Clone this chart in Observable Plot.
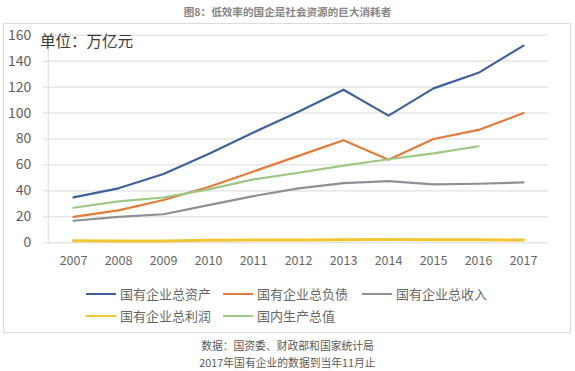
<!DOCTYPE html>
<html><head><meta charset="utf-8">
<script src="https://cdn.jsdelivr.net/npm/d3@7"></script>
<script src="https://cdn.jsdelivr.net/npm/@observablehq/plot@0.6"></script>
<style>
body{margin:0;background:#fff;font-family:"Noto Sans CJK SC","Noto Sans",sans-serif;}
#wrap{position:relative;width:575px;height:371px;overflow:hidden;background:#fff;}
#title{position:absolute;top:3px;left:0;width:575px;text-align:center;font-size:10.6px;font-weight:bold;color:#858585;line-height:18px;}
#box{position:absolute;left:3px;top:23px;width:568px;height:310px;border:1px solid #dcdcdc;box-sizing:border-box;}
#chart{position:absolute;left:0;top:0;}
#unit{position:absolute;left:40px;top:29px;font-size:15.5px;color:#3a3a3a;line-height:22px;}
.leg{position:absolute;display:flex;align-items:center;font-size:13px;color:#666;line-height:18px;}
.sw{display:inline-block;width:30px;height:2px;margin-right:4px;}
.foot{position:absolute;left:0;width:575px;text-align:center;font-size:10.8px;color:#5a5a5a;line-height:16px;}
</style></head>
<body><div id="wrap">
<div id="title">图8：低效率的国企是社会资源的巨大消耗者</div>
<div id="box"></div>
<div id="chart"></div>
<div id="unit">单位：万亿元</div>
<div id="legend"></div>
<div class="foot" style="top:337px">数据：国资委、财政部和国家统计局</div>
<div class="foot" style="top:354px">2017年国有企业的数据到当年11月止</div>
</div>
<script>
const years = [2007, 2008, 2009, 2010, 2011, 2012, 2013, 2014, 2015, 2016, 2017];
const seriesNames = ["国有企业总资产", "国有企业总负债", "国有企业总收入", "国有企业总利润", "国内生产总值"];
const seriesColors = ["#41609e", "#e37b3a", "#8f9096", "#f2c630", "#9ec783"];
const assets = [35, 42, 53, 68.5, 85, 101, 118, 98, 119, 131, 152];
const liabilities = [20, 25, 33, 43, 55, 67, 79, 64, 80, 87, 100];
const revenue = [17, 20, 22, 29, 36, 42, 46, 47.5, 45, 45.5, 46.5];
const profit = [1.6, 1.4, 1.4, 1.9, 2.2, 2.1, 2.4, 2.5, 2.3, 2.3, 2.1];
const gdp = [27, 31.9, 34.9, 41.2, 48.9, 54, 59.5, 64.4, 68.9, 74.4];
const yTicks = [0, 20, 40, 60, 80, 100, 120, 140, 160];

const allSeries = [assets, liabilities, revenue, profit, gdp];
const rows = [];
allSeries.forEach((vals, i) => {
  vals.forEach((v, j) => rows.push({year: years[j], value: v, series: seriesNames[i]}));
});

const chart = Plot.plot({
  width: 575,
  height: 275,
  marginTop: 34.7,
  marginBottom: 32.7,
  marginLeft: 47.7,
  marginRight: 27,
  style: {fontFamily: '"Noto Sans CJK SC","Noto Sans",sans-serif', background: "transparent"},
  x: {type: "point", domain: years, padding: 0.5},
  y: {domain: [0, 160]},
  color: {domain: seriesNames, range: seriesColors},
  marks: [
    Plot.gridY(yTicks, {stroke: "#d9d9d9", strokeOpacity: 1, strokeWidth: 1}),
    Plot.frame({anchor: "left", stroke: "#d9d9d9"}),
    Plot.axisY(yTicks, {tickSize: 5, tickPadding: 12, stroke: "#d9d9d9", fontSize: 14, fill: "#5f5f5f", label: null}),
    Plot.axisX(years, {tickSize: 0, tickPadding: 13, fontSize: 12.5, fill: "#666", label: null, tickFormat: d => String(d)}),
    Plot.line(rows, {x: "year", y: "value", z: "series", stroke: "series", strokeWidth: d => 2.2, curve: "linear",
      filter: d => d.series !== "国有企业总利润"}),
    Plot.line(rows, {x: "year", y: "value", z: "series", stroke: "series", strokeWidth: 3, curve: "linear",
      filter: d => d.series === "国有企业总利润"})
  ]
});
document.getElementById("chart").appendChild(chart);

const legendPos = [
  [86, 294], [223, 294], [362, 294],
  [86, 316], [223, 316]
];
const legend = document.getElementById("legend");
seriesNames.forEach((name, i) => {
  const d = document.createElement("div");
  d.className = "leg";
  d.style.left = legendPos[i][0] + "px";
  d.style.top = (legendPos[i][1] - 9) + "px";
  const sw = document.createElement("span");
  sw.className = "sw";
  sw.style.background = seriesColors[i];
  const t = document.createElement("span");
  t.textContent = name;
  d.appendChild(sw);
  d.appendChild(t);
  legend.appendChild(d);
});
</script>
</body></html>
